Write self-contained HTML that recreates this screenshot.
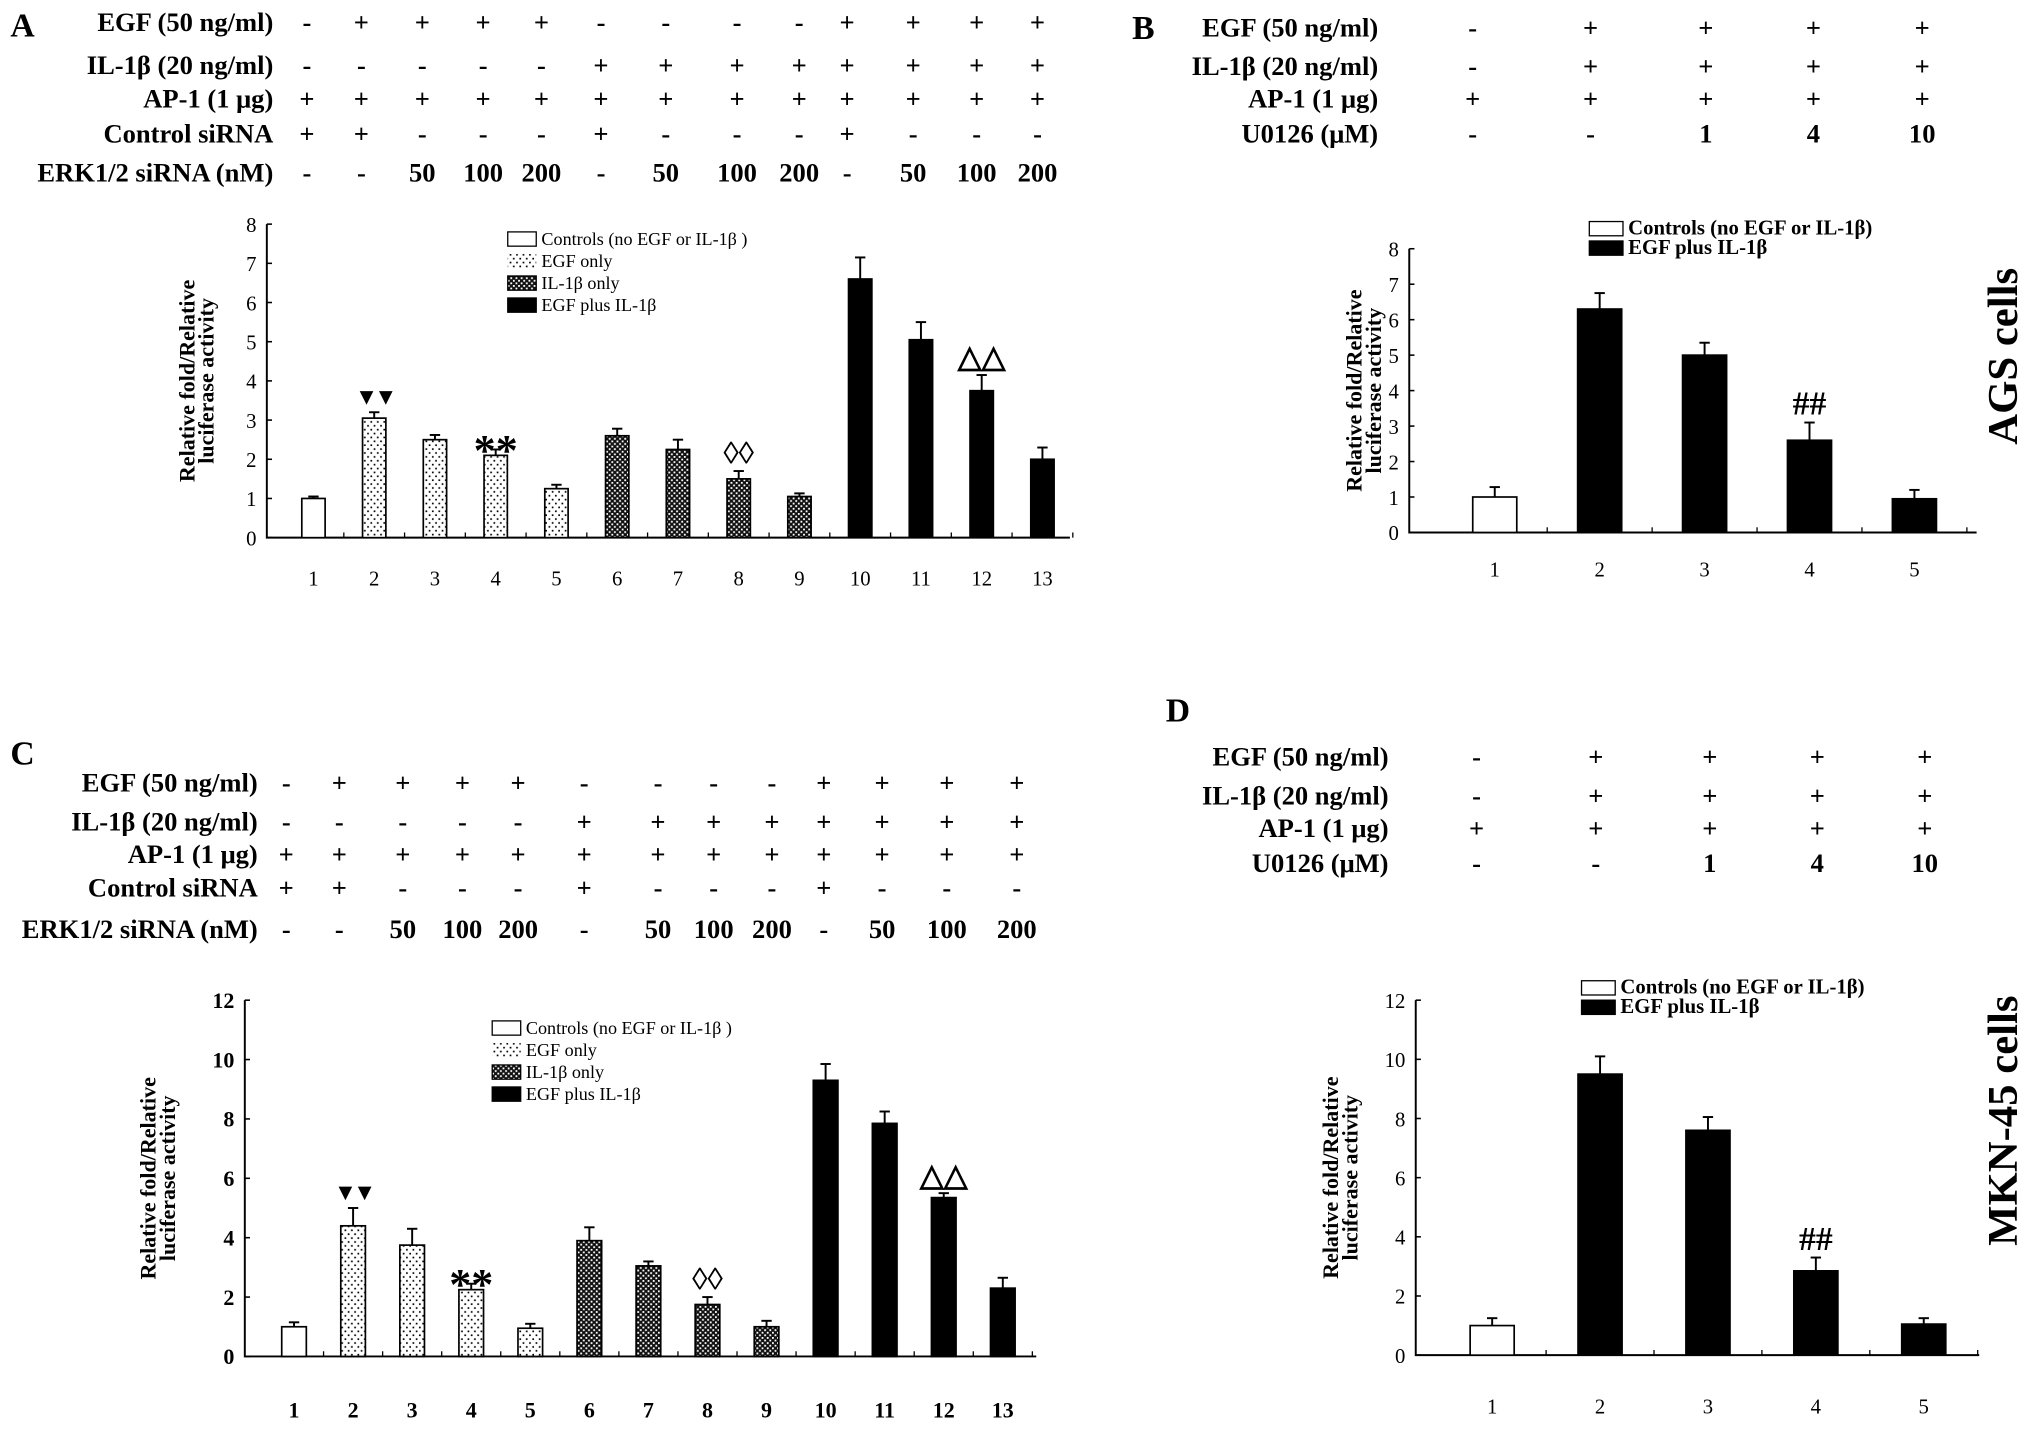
<!DOCTYPE html>
<html><head><meta charset="utf-8"><style>
html,body{margin:0;padding:0;background:#fff;}
svg{display:block;}
text{font-family:"Liberation Serif",serif;fill:#000;}
</style></head><body>
<svg id="fig" width="2031" height="1429" viewBox="0 0 1568 1103" preserveAspectRatio="none" xmlns="http://www.w3.org/2000/svg">
<defs>
<pattern id="dots" width="5" height="6" patternUnits="userSpaceOnUse"><rect width="5" height="6" fill="#fff"/><rect x="1" y="1" width="1.3" height="1.3" fill="#000"/><rect x="3.5" y="4" width="1.3" height="1.3" fill="#000"/></pattern>
<pattern id="check" width="4" height="4" patternUnits="userSpaceOnUse"><rect width="4" height="4" fill="#111"/><rect x="0" y="0" width="1.4" height="1.4" fill="#fff"/><rect x="2" y="2" width="1.4" height="1.4" fill="#fff"/></pattern>
</defs>
<g id="root"></g>
</svg>
<script>
// ---- data ----
const catsA = ["1","2","3","4","5","6","7","8","9","10","11","12","13"];
const valsA = [1.0,3.05,2.5,2.1,1.25,2.6,2.25,1.5,1.05,6.6,5.05,3.75,2.0];
const errsA = [0.05,0.15,0.12,0.15,0.1,0.18,0.25,0.2,0.08,0.55,0.45,0.4,0.3];
const typesA = [0,1,1,1,1,2,2,2,2,3,3,3,3];
const ticksA = [0,1,2,3,4,5,6,7,8];
const catsB = ["1","2","3","4","5"];
const valsB = [1.0,6.3,5.0,2.6,0.95];
const errsB = [0.28,0.45,0.35,0.5,0.25];
const typesB = [0,3,3,3,3];
const ticksB = [0,1,2,3,4,5,6,7,8];
const catsC = ["1","2","3","4","5","6","7","8","9","10","11","12","13"];
const valsC = [1.0,4.4,3.75,2.25,0.95,3.9,3.05,1.75,1.0,9.3,7.85,5.35,2.3];
const errsC = [0.15,0.6,0.55,0.2,0.15,0.45,0.15,0.25,0.2,0.55,0.4,0.15,0.35];
const typesC = [0,1,1,1,1,2,2,2,2,3,3,3,3];
const ticksC = [0,2,4,6,8,10,12];
const catsD = ["1","2","3","4","5"];
const valsD = [1.0,9.5,7.6,2.85,1.05];
const errsD = [0.25,0.6,0.45,0.45,0.2];
const typesD = [0,3,3,3,3];
const ticksD = [0,2,4,6,8,10,12];
const hdrRowsAC = ["EGF (50 ng/ml)","IL-1β (20 ng/ml)","AP-1 (1 μg)","Control siRNA","ERK1/2 siRNA (nM)"];
const hdrValsAC = [
 ["-","+","+","+","+","-","-","-","-","+","+","+","+"],
 ["-","-","-","-","-","+","+","+","+","+","+","+","+"],
 ["+","+","+","+","+","+","+","+","+","+","+","+","+"],
 ["+","+","-","-","-","+","-","-","-","+","-","-","-"],
 ["-","-","50","100","200","-","50","100","200","-","50","100","200"]];
const hdrRowsBD = ["EGF (50 ng/ml)","IL-1β (20 ng/ml)","AP-1 (1 μg)","U0126 (μM)"];
const hdrValsBD = [["-","+","+","+","+"],["-","+","+","+","+"],["+","+","+","+","+"],["-","-","1","4","10"]];
const annA = {1:"▼▼",3:"**",7:"◊◊",11:"△△"};
const annB = {3:"##"};

const NS="http://www.w3.org/2000/svg";
const root=document.getElementById('root');
function mk(tag,attrs,parent,txt){const e=document.createElementNS(NS,tag);for(const k in attrs)e.setAttribute(k,attrs[k]);if(txt!==undefined)e.textContent=txt;(parent||root).appendChild(e);return e;}
const fills=["#fff","url(#dots)","url(#check)","#000"];

function header(g,labelX,rowsY,colsX,rows,vals,fs){
  rows.forEach((r,i)=>{
    const t=mk('text',{x:labelX,y:rowsY[i],'text-anchor':'end','font-size':fs,'font-weight':'bold'},g,r);
    
    
    vals[i].forEach((v,j)=>{
      const c=mk('text',{x:colsX[j],y:rowsY[i],'text-anchor':'middle','font-size':fs,'font-weight':'bold'},g,v);
      
      
    });
  });
}

function chart(g,o){
  const yS=v=>o.y0-(v/o.ymax)*(o.y0-o.y1);
  const xS=i=>o.xs+i*o.step;
  const ax=mk('path',{d:`M${o.ax},${o.y1} V${o.y0} H${o.axEnd}`,stroke:'#000','stroke-width':1.5,fill:'none'},g);
  
  
  o.ticks.forEach(t=>{
    const y=yS(t);
    mk('line',{x1:o.ax,x2:o.ax+4,y1:y,y2:y,stroke:'#000','stroke-width':1.2},g);
    const tl=mk('text',{x:o.ax-8,y:y+6,'text-anchor':'end','font-size':o.tfs,'font-weight':o.bold?'bold':'normal'},g,String(t));
    
    
  });
  o.cats.forEach((c,i)=>{
    const x=xS(i);
    mk('line',{x1:x+o.step/2,x2:x+o.step/2,y1:o.y0,y2:o.y0-4,stroke:'#000','stroke-width':1},g);
    const v=o.vals[i],e=o.errs[i],yt=yS(v),ye=yS(v+e);
    mk('line',{x1:x,x2:x,y1:yt,y2:ye,stroke:'#000','stroke-width':1.5},g);
    mk('line',{x1:x-4,x2:x+4,y1:ye,y2:ye,stroke:'#000','stroke-width':1.5},g);
    const b=mk('rect',{x:x-o.bw/2,y:yt,width:o.bw,height:o.y0-yt,fill:fills[o.types[i]],stroke:'#000','stroke-width':1.3},g);
    
    
    const xl=mk('text',{x:x,y:o.labY,'text-anchor':'middle','font-size':o.tfs,'font-weight':o.bold?'bold':'normal'},g,c);
    
    
    if(o.ann&&o.ann[i]){
      const s=o.ann[i];
      const a=mk('text',{x:x,y:ye-6,'text-anchor':'middle','font-size':s==="**"?34:(s==="##"?26:(s==="▼▼"?18:24)),'font-weight':'bold',fill:s==="△△"||s==="◊◊"?'#333':'#000','font-family':'"DejaVu Sans",sans-serif','letter-spacing':s==="▼▼"?-3:0},g,s);
      if(s==="**") a.setAttribute('y',ye+12);
      
      
    }
  });
  const yt=mk('text',{transform:`translate(${o.titleX},${(o.y0+o.y1)/2}) rotate(-90)`,'text-anchor':'middle','font-size':17,'font-weight':'bold'},g);
  
  
  mk('tspan',{x:0,dy:0},yt,'Relative fold/Relative');
  mk('tspan',{x:0,dy:15},yt,'luciferase activity');
  o.legend.forEach((l,i)=>{
    const y=o.legY+i*o.legStep;
    const r=mk('rect',{x:o.legX,y:y-10,width:o.legW,height:11,fill:fills[l[0]],stroke:l[0]==1?'none':'#000','stroke-width':1},g);
    
    
    const t=mk('text',{x:o.legX+o.legW+4,y:y,'font-size':o.lfs,'font-weight':o.lbold?'bold':'normal'},g,l[1]);
    
    
  });
}
function panel(name,label,lx,ly){const g=mk('g',{});
 const t=mk('text',{x:lx,y:ly,'font-size':26,'font-weight':'bold'},g,label);return g;}
const leg4=[[0,"Controls (no EGF or IL-1β )"],[1,"EGF only"],[2,"IL-1β  only"],[3,"EGF plus IL-1β"]];
const leg2=[[0,"Controls (no EGF or IL-1β)"],[3,"EGF plus IL-1β"]];

// Panel A
let g=panel('panel-a','A',8,28);
header(g,211,[24,57,83,110,140],[237,279,326,373,418,464,514,569,617,654,705,754,801],hdrRowsAC,hdrValsAC,20.5);
chart(g,{cats:catsA,vals:valsA,errs:errsA,types:typesA,ticks:ticksA,ymax:8,y0:415,y1:173,ax:206,axEnd:826,xs:242,step:46.9,bw:18,labY:452,tfs:16,titleX:150,ann:annA,legend:leg4,legX:392,legY:189,legStep:17,legW:22,lfs:14,lbold:false});
// Panel B
g=panel('panel-b','B',874,30);
header(g,1064,[28,58,83,110],[1137,1228,1317,1400,1484],hdrRowsBD,hdrValsBD,20.5);
chart(g,{cats:catsB,vals:valsB,errs:errsB,types:typesB,ticks:ticksB,ymax:8,y0:411,y1:192,ax:1088,axEnd:1526,xs:1154,step:81,bw:34,labY:445,tfs:16,titleX:1051,ann:annB,legend:leg2,legX:1227,legY:181,legStep:15,legW:26,lfs:16,lbold:true});
let t=mk('text',{transform:'translate(1557,275) rotate(-90)','text-anchor':'middle','font-size':33,'font-weight':'bold'},g,'AGS cells');

// Panel C
g=panel('panel-c','C',8,590);
header(g,199,[611,641,666,692,724],[221,262,311,357,400,451,508,551,596,636,681,731,785],hdrRowsAC,hdrValsAC,20.5);
chart(g,{cats:catsC,vals:valsC,errs:errsC,types:typesC,ticks:ticksC,ymax:12,y0:1047,y1:772,ax:189,axEnd:800,xs:227,step:45.6,bw:19,labY:1094,tfs:17,bold:true,titleX:120,ann:annA,legend:leg4,legX:380,legY:798,legStep:17,legW:22,lfs:14,lbold:false});
// Panel D
g=panel('panel-d','D',900,557);
header(g,1072,[591,621,646,673],[1140,1232,1320,1403,1486],hdrRowsBD,hdrValsBD,20.5);
chart(g,{cats:catsD,vals:valsD,errs:errsD,types:typesD,ticks:ticksD,ymax:12,y0:1046,y1:772,ax:1093,axEnd:1528,xs:1152,step:83.3,bw:34,labY:1091,tfs:16,titleX:1033,ann:annB,legend:leg2,legX:1221,legY:767,legStep:15,legW:26,lfs:16,lbold:true});
t=mk('text',{transform:'translate(1557,865) rotate(-90)','text-anchor':'middle','font-size':33,'font-weight':'bold'},g,'MKN-45 cells');

</script>
</body></html>
